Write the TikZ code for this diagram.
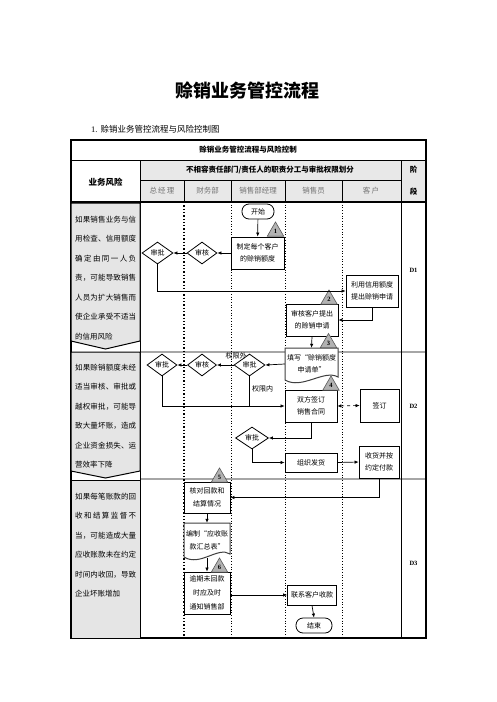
\documentclass[tikz,border=0pt]{standalone}
\usepackage{fontspec}
\setmainfont{Liberation Serif}
\newfontfamily\cjk{Noto Sans CJK SC}
\usetikzlibrary{arrows.meta,shapes.geometric}
\def\mygobble#1{}
\def\myfirst#1{#1}
\def\spx#1#2{#1\ifx\relax#2\expandafter\mygobble\else\hfil\expandafter\myfirst\fi{\spx#2}}
\newcommand\riskline[1]{\makebox[61pt][s]{\spx#1\relax}}
\begin{document}
\begin{tikzpicture}[x=1pt,y=-1pt,
  every node/.style={font=\cjk\fontsize{7}{12.5}\selectfont},
  box/.style={draw, line width=0.8pt, fill=white, align=center, inner sep=0pt},
  dia/.style={draw, diamond, line width=0.8pt, fill=white, inner sep=0pt, aspect=1.4},
  term/.style={draw, rounded corners=7pt, line width=0.8pt, fill=white, inner sep=0pt},
  docshape/.style={draw=black!75, line width=1pt, fill=white},
  tri/.style={draw=black!65, fill=black!30, regular polygon, regular polygon sides=3, minimum size=19pt, inner sep=0pt, line width=0.6pt, font=\rmfamily\bfseries\fontsize{6.5}{7}\selectfont},
  arr/.style={-{Latex[length=4pt,width=3.5pt]}, line width=0.7pt},
  lane/.style={dotted, line width=0.7pt},
  sep/.style={draw=black!35, line width=1.2pt},
  risk/.style={draw, line width=1pt, fill=black!10},
  risktext/.style={anchor=north west, inner sep=0pt, align=left, font=\cjk\fontsize{7.5}{19.5}\selectfont},
  hdr/.style={font=\cjk\bfseries\fontsize{7.5}{9}\selectfont},
  colname/.style={text=black!55, font=\cjk\fontsize{7.5}{9}\selectfont},
  phase/.style={font=\rmfamily\bfseries\fontsize{6.5}{7}\selectfont}]
\fill[white] (0,0) rectangle (496,702);
\useasboundingbox (0,0) rectangle (496,702);

% titles
\node[font=\cjk\bfseries\fontsize{18}{20}\selectfont] (title) at (247.5,90) {赊销业务管控流程};
\node[anchor=west, font=\cjk\fontsize{8.5}{10}\selectfont, inner sep=0pt] (subtitle) at (91,129) {{\rmfamily 1.}\hspace{3pt}赊销业务管控流程与风险控制图};

% table header
\fill[black!9] (140,160) rectangle (426,202);
\draw[sep] (140,352) -- (426,352);
\draw[sep] (140,479) -- (426,479);
\draw[line width=0.8pt] (71,160) -- (426,160);
\draw[line width=0.6pt] (140,180) -- (401,180);
\draw[line width=0.6pt] (184,180) -- (184,202);
\draw[line width=0.6pt] (231,180) -- (231,202);
\draw[line width=0.6pt] (285,180) -- (285,202);
\draw[line width=0.6pt] (342,180) -- (342,202);
\draw[line width=0.8pt] (140,160) -- (140,638);
\draw[line width=0.8pt] (401,160) -- (401,638);
\draw[line width=1.5pt] (71,202) -- (426,202);
\draw[line width=1.5pt] (71,140) rectangle (426,638);

\node[hdr] (h0) at (248,150) {赊销业务管控流程与风险控制};
\node[hdr, font=\cjk\bfseries\fontsize{8.5}{10}\selectfont] (h1) at (105.5,182) {业务风险};
\node[hdr] (h2) at (270,170) {不相容责任部门/责任人的职责分工与审批权限划分};
\node[hdr] (h3) at (413.5,170) {阶};
\node[hdr] (h4) at (413.5,192) {段};
\node[colname] (c1) at (162,191) {总\,经\,理};
\node[colname] (c2) at (207.5,191) {财务部};
\node[colname] (c3) at (258,191) {销售部经理};
\node[colname] (c4) at (313.5,191) {销售员};
\node[colname] (c5) at (371,191) {客\,户};

% lanes
\draw[lane, line width=1.3pt] (184,202) -- (184,638);
\draw[lane] (231,202) -- (231,638);
\draw[lane] (285,202) -- (285,638);
\draw[lane] (342,202) -- (342,638);

% risk column
\draw[risk] (71,203) -- (140,203) -- (140,341) -- (105.5,349) -- (71,341) -- cycle;
\draw[risk] (71,352) -- (140,352) -- (140,471) -- (105.5,478) -- (71,471) -- cycle;
\draw[risk] (71,480) rectangle (140,638);
\node[risktext] (r1) at (75,215.5) {\riskline{如果销售业务与信}\\\riskline{用检查、信用额度}\\\riskline{确定由同一人负}\\\riskline{责，可能导致销售}\\\riskline{人员为扩大销售而}\\\riskline{使企业承受不适当}\\的信用风险};
\node[risktext] (r2) at (75,363.5) {\riskline{如果赊销额度未经}\\\riskline{适当审核、审批或}\\\riskline{越权审批，可能导}\\\riskline{致大量坏账，造成}\\\riskline{企业资金损失、运}\\营效率下降};
\node[risktext] (r3) at (75,492.5) {\riskline{如果每笔账款的回}\\\riskline{收和结算监督不}\\\riskline{当，可能造成大量}\\\riskline{应收账款未在约定}\\\riskline{时间内收回，导致}\\企业坏账增加};

% phases
\node[phase] (p1) at (413.5,270) {D1};
\node[phase] (p2) at (413.5,406) {D2};
\node[phase] (p3) at (413.5,563) {D3};

% row 1
\node[term, minimum width=32pt, minimum height=15pt] (start) at (258,211.5) {开始};
\node[box, minimum width=53pt, minimum height=32pt] (b1) at (257.5,253) {制定每个客户\\的赊销额度};
\node[dia, minimum width=30pt, minimum height=22pt] (d1a) at (202,253) {审核};
\node[dia, minimum width=31pt, minimum height=22pt] (d1b) at (157.5,253) {审批};
\node[box, minimum width=52pt, minimum height=32pt] (b2) at (372,291) {利用信用额度\\提出赊销申请};
\node[box, minimum width=52pt, minimum height=32pt] (b3) at (312,320) {审核客户提出\\的赊销申请};

% row 2
\draw[docshape] (285,348) -- (338,348) -- (338,377) .. controls (324,369) and (302,390) .. (285,380) -- cycle;
\node[inner sep=0pt, minimum width=53pt, minimum height=32pt, align=center] (doc1) at (311.5,364) {填写“赊销额度\\申请单”};
\node[dia, minimum width=31pt, minimum height=22pt] (d2c) at (249.5,365) {审批};
\node[dia, minimum width=29pt, minimum height=22pt] (d2b) at (202,365) {审核};
\node[dia, minimum width=30pt, minimum height=22pt] (d2a) at (162,365) {审批};
\node[box, minimum width=52pt, minimum height=32pt] (b4) at (311,406) {双方签订\\销售合同};
\node[box, minimum width=39pt, minimum height=33pt] (b5) at (379.5,405.5) {签订};
\node[dia, minimum width=33pt, minimum height=22pt] (d2d) at (252,438) {审批};
\node[box, minimum width=52pt, minimum height=19pt] (b6) at (311,462.5) {组织发货};
\node[box, minimum width=40pt, minimum height=32pt] (b7) at (379,462) {收货并按\\约定付款};
\node[inner sep=1pt] (lout) at (236,355.5) {权限外};
\node[inner sep=1pt] (lin) at (262.5,389) {权限内};

% row 3
\node[box, minimum width=46pt, minimum height=31pt] (b8) at (207,497.5) {核对回款和\\结算情况};
\draw[docshape] (184,523) -- (230,523) -- (230,554) .. controls (218,546) and (200,567) .. (184,557) -- cycle;
\node[inner sep=0pt, minimum width=46pt, minimum height=35pt, align=center] (doc2) at (207,540.5) {编制“应收账\\款汇总表”};
\node[box, minimum width=46pt, minimum height=42pt, font=\cjk\fontsize{7}{14}\selectfont] (b9) at (207,593) {逾期未回款\\时应及时\\通知销售部};
\node[box, minimum width=49pt, minimum height=20pt] (b10) at (312,595) {联系客户收款};
\node[term, minimum width=36pt, minimum height=15pt] (end) at (314,625.5) {结束};

% markers
\node[tri, anchor=side 2] (t1) at (275.5,236.5) {1};
\node[tri, anchor=side 2] (t2) at (329,304.5) {2};
\node[tri, anchor=side 2] (t3) at (328.5,348) {3};
\node[tri, anchor=side 2] (t4) at (331,390.5) {4};
\node[tri, anchor=side 2] (t5) at (219.5,482.5) {5};
\node[tri, anchor=side 2] (t6) at (219.5,572.5) {6};

% connectors
\draw[arr] (start) -- (b1);
\draw[arr] (b1.west) -- (d1a.east);
\draw[arr] (d1a.west) -- (d1b.east);
\draw[arr] (d1b.south) |- (b2.west);
\draw[arr] (b2.south) |- (b3.east);
\draw[arr] (b3.south) -- (doc1.north);
\draw[arr] (doc1.west) -- (d2c.east);
\draw[arr] (d2c.west) -- (d2b.east);
\draw[arr] (d2b.west) -- (d2a.east);
\draw[arr] (d2a.south) |- (b4.west);
\draw[line width=0.7pt] (d2c.south) -- (d2c.south |- b4.west);
\draw[{Latex[length=4pt,width=3.5pt]}-{Latex[length=4pt,width=3.5pt]}, line width=0.7pt, dashed] (b4.east) -- (b5.west);
\draw[arr] (b4.south) |- (d2d.east);
\draw[arr] (d2d.south) |- (b6.west);
\draw[arr] (b6.east) -- (b7.west);
\draw[arr] (b7.south) |- (b8.east);
\draw[arr] (b8.south) -- (doc2.north);
\draw[arr] (doc2.south) -- (b9.north);
\draw[arr] (b9.east |- b10.west) -- (b10.west);
\draw[arr] (b10.south) -- (end.north);
\end{tikzpicture}
\end{document}
